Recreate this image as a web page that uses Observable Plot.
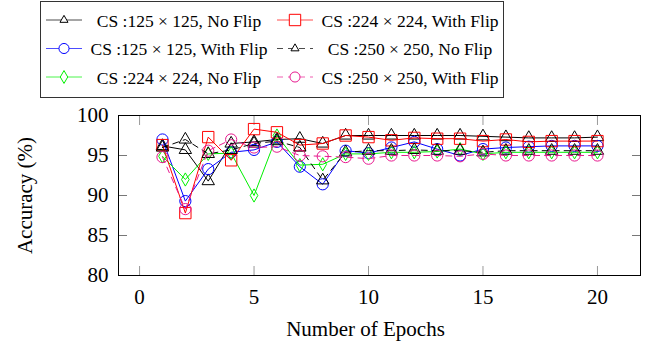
<!DOCTYPE html>
<html>
<head>
<meta charset="utf-8">
<script src="https://cdn.jsdelivr.net/npm/d3@7"></script>
<script src="https://cdn.jsdelivr.net/npm/@observablehq/plot@0.6"></script>
<style>
  body { margin: 0; background: #fff; }
  #wrap { width: 652px; height: 354px; position: relative; font-family: "Liberation Serif", "Times New Roman", serif; }
  #wrap svg { display: block; }
</style>
</head>
<body>
<div id="wrap"></div>
<script>
// ---- data ----
const epochs = [1, 2, 3, 4, 5, 6, 7, 8, 9, 10, 11, 12, 13, 14, 15, 16, 17, 18, 19, 20];
const cs125NoFlip = [96.2, 95.7, 91.8, 96.5, 96.7, 97.0, 97.1, 96.5, 97.5, 97.5, 97.5, 97.5, 97.5, 97.5, 97.4, 97.3, 97.2, 97.2, 97.2, 97.3];
const cs125Flip   = [97.0, 89.3, 93.3, 95.4, 95.7, 96.7, 93.6, 91.4, 95.6, 95.3, 96.0, 96.7, 95.8, 95.0, 95.8, 96.0, 96.1, 96.2, 96.2, 96.2];
const cs224NoFlip = [94.9, 92.0, 95.2, 95.3, 90.0, 97.5, 93.8, 93.9, 95.2, 95.2, 95.4, 95.4, 95.5, 95.8, 95.2, 95.4, 95.4, 95.4, 95.4, 95.4];
const cs224Flip   = [96.3, 87.8, 97.3, 94.4, 98.3, 97.9, 96.3, 96.5, 97.5, 97.3, 96.9, 97.2, 97.1, 97.1, 96.8, 97.0, 96.7, 96.8, 96.8, 96.8];
const cs250NoFlip = [96.0, 97.0, 95.2, 95.7, 96.5, 96.8, 96.0, 91.9, 95.4, 95.6, 95.6, 95.7, 95.6, 95.6, 95.4, 95.6, 95.6, 95.6, 95.6, 95.6];
const cs250Flip   = [94.8, 88.3, 95.6, 97.0, 96.0, 96.1, 95.0, 94.9, 94.8, 94.6, 95.0, 95.0, 95.0, 94.9, 95.2, 95.0, 95.0, 95.0, 95.0, 95.0];
const seriesNames = [
  "CS :125 × 125, No Flip",
  "CS :125 × 125, With Flip",
  "CS :224 × 224, No Flip",
  "CS :224 × 224, With Flip",
  "CS :250 × 250, No Flip",
  "CS :250 × 250, With Flip"
];
const xTicks = [0, 5, 10, 15, 20];
const yTicks = [80, 85, 90, 95, 100];
const xLabel = "Number of Epochs";
const yLabel = "Accuracy (%)";

// ---- styles ----
const seriesValues = [cs125NoFlip, cs125Flip, cs224NoFlip, cs224Flip, cs250NoFlip, cs250Flip];
const styles = [
  {color: "#000000", symbol: "triangle", r: 4.6, dash: null,  lr: 28},
  {color: "#0000ff", symbol: "circle",   r: 5.6, dash: null,  lr: 80},
  {color: "#00f000", symbol: "diamond",  r: 4.0, dash: null,  lr: 48},
  {color: "#ff0000", symbol: "square",   r: 6.4, dash: null,  lr: 130},
  {color: "#000000", symbol: "triangle", r: 4.6, dash: "6,5", lr: 28},
  {color: "#e8198f", symbol: "circle",   r: 5.6, dash: "6,5", lr: 80}
];

const wrap = document.getElementById("wrap");

// ---- legend (above the plot) ----
const legend = d3.create("svg").attr("width", 652).attr("height", 100);
legend.append("rect").attr("x", 40.5).attr("y", 1.5).attr("width", 463).attr("height", 96)
  .attr("fill", "white").attr("stroke", "#333").attr("stroke-width", 1);
const symMap = {triangle: d3.symbolTriangle, circle: d3.symbolCircle, diamond: d3.symbolDiamond, square: d3.symbolSquare};
const colX = [46, 277], colText = [179, 410], rowY = [20, 48.5, 77];
seriesNames.forEach((name, i) => {
  const col = i < 3 ? 0 : 1, row = i % 3, st = styles[i];
  const g = legend.append("g");
  const x0 = colX[col], y0 = rowY[row];
  g.append("line").attr("x1", x0).attr("x2", x0 + 36).attr("y1", y0).attr("y2", y0)
    .attr("stroke", st.color).attr("stroke-opacity", 0.7).attr("stroke-width", 1)
    .attr("stroke-dasharray", st.dash);
  g.append("path").attr("transform", `translate(${x0 + 18},${y0})`)
    .attr("d", d3.symbol(symMap[st.symbol], st.lr)())
    .attr("fill", "white").attr("stroke", st.color).attr("stroke-width", 1);
  g.append("text").attr("x", colText[col]).attr("y", y0 + 6.5).attr("text-anchor", "middle")
    .attr("font-size", 17.5).attr("font-family", '"Liberation Serif", serif').attr("fill", "#000")
    .text(name);
});
wrap.appendChild(legend.node());

// ---- plot ----
const marks = [];
seriesValues.forEach((vals, i) => {
  const st = styles[i];
  const data = epochs.map((e, j) => ({epoch: e, acc: vals[j]}));
  marks.push(Plot.line(data, {x: "epoch", y: "acc", stroke: st.color, strokeWidth: 1, strokeDasharray: st.dash}));
  marks.push(Plot.dot(data, {x: "epoch", y: "acc", symbol: st.symbol, r: st.r, stroke: st.color, fill: "none", strokeWidth: 1}));
});

const chart = Plot.plot({
  width: 652,
  height: 254,
  marginTop: 15,
  marginBottom: 79,
  marginLeft: 118,
  marginRight: 12,
  x: {domain: [-0.92, 21.88]},
  y: {domain: [80, 100]},
  style: {fontFamily: '"Liberation Serif", serif', fontSize: "21px", color: "#000", background: "white", overflow: "visible"},
  marks: [
    Plot.axisX({ticks: xTicks, anchor: "bottom", tickSize: -9, tickPadding: 23, stroke: "#999", label: null}),
    Plot.axisX({ticks: xTicks, anchor: "top", tickSize: -9, tickFormat: () => "", stroke: "#999", label: null}),
    Plot.axisY({ticks: yTicks, anchor: "left", tickSize: -9, tickPadding: 19, stroke: "#777", label: yLabel, labelAnchor: "center", labelOffset: 101, labelArrow: "none"}),
    Plot.axisY({ticks: yTicks, anchor: "right", tickSize: -9, tickFormat: () => "", stroke: "#777", label: null}),
    ...marks,
    Plot.frame({stroke: "#000", strokeWidth: 1}),
    Plot.text([xLabel], {frameAnchor: "bottom", dx: -14, dy: 60, fontSize: 21})
  ]
});
wrap.appendChild(chart);
</script>
</body>
</html>
